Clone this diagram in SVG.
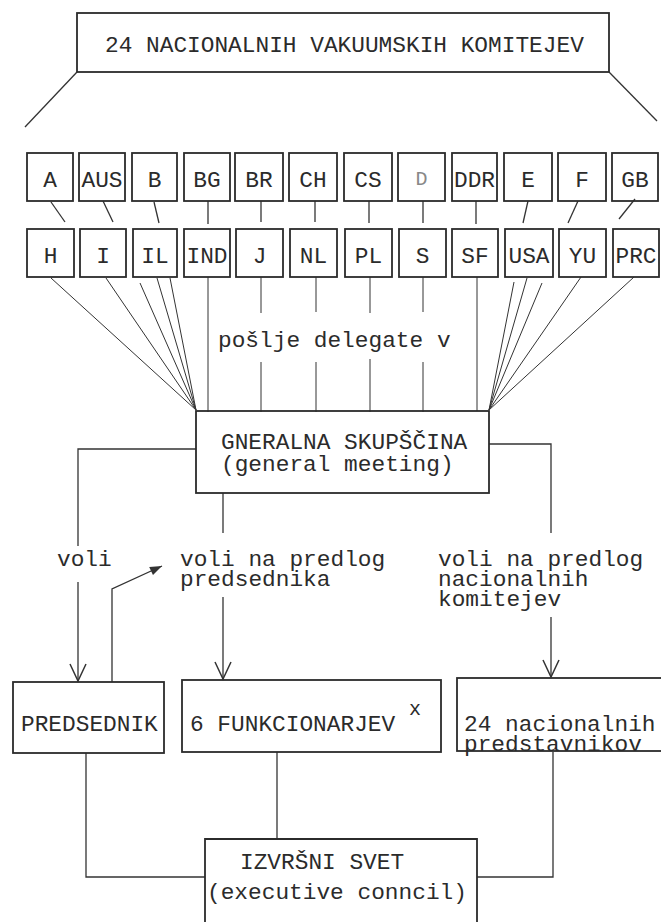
<svg xmlns="http://www.w3.org/2000/svg" width="661" height="922" viewBox="0 0 661 922">
<style>
.box{fill:none;stroke:#2b2b2b;stroke-width:1.8}
.ln{fill:none;stroke:#333;stroke-width:1.3}
.fan{fill:none;stroke:#333;stroke-width:1}
text{font-family:"Liberation Mono","Courier New",monospace;font-size:22.8px;fill:#2b2b2b}
.c{text-anchor:middle}
</style>
<defs>
<marker id="vee" viewBox="-1 -10 20 20" refX="17" refY="0" markerWidth="20" markerHeight="20" markerUnits="userSpaceOnUse" orient="auto">
<path d="M0,-8 L17,0 L0,8" fill="none" stroke="#333" stroke-width="1.5"/>
</marker>
<marker id="tri" viewBox="-1 -6 14 12" refX="12" refY="0" markerWidth="14" markerHeight="12" markerUnits="userSpaceOnUse" orient="auto">
<path d="M0,-4.5 L12,0 L0,4.5 Z" fill="#333"/>
</marker>
</defs>
<rect width="661" height="922" fill="#fff"/>

<g id="connectors">
<!-- top box slants -->
<line class="ln" x1="77" y1="72" x2="25" y2="127"/>
<line class="ln" x1="609" y1="72" x2="657" y2="121"/>
<!-- short links row1 -> row2 -->
<line class="ln" x1="51" y1="202" x2="65" y2="222"/>
<line class="ln" x1="103" y1="201" x2="113" y2="222"/>
<line class="ln" x1="154" y1="202" x2="159" y2="223"/>
<line class="ln" x1="208" y1="201" x2="208" y2="224"/>
<line class="ln" x1="261" y1="201" x2="261" y2="222"/>
<line class="ln" x1="315" y1="201" x2="315" y2="222"/>
<line class="ln" x1="369" y1="201" x2="369" y2="223"/>
<line class="ln" x1="423" y1="201" x2="423" y2="223"/>
<line class="ln" x1="476" y1="201" x2="476" y2="224"/>
<line class="ln" x1="528" y1="201" x2="523" y2="223"/>
<line class="ln" x1="578" y1="201" x2="568" y2="223"/>
<line class="ln" x1="635" y1="199" x2="619" y2="219"/>
<!-- left fan -->
<line class="fan" x1="51" y1="278" x2="196" y2="410"/>
<line class="fan" x1="106" y1="278" x2="196" y2="410"/>
<line class="fan" x1="140" y1="283" x2="196" y2="410"/>
<line class="fan" x1="157" y1="278" x2="196" y2="410"/>
<line class="fan" x1="170" y1="278" x2="196" y2="410"/>
<!-- right fan -->
<line class="fan" x1="514" y1="282" x2="489" y2="410"/>
<line class="fan" x1="527" y1="278" x2="489" y2="410"/>
<line class="fan" x1="542" y1="283" x2="489" y2="410"/>
<line class="fan" x1="581" y1="277" x2="489" y2="410"/>
<line class="fan" x1="634" y1="277" x2="489" y2="410"/>
<!-- verticals to general meeting -->
<line class="fan" x1="208" y1="277" x2="208" y2="412"/>
<line class="fan" x1="261" y1="277" x2="261" y2="313"/>
<line class="fan" x1="261" y1="362" x2="261" y2="412"/>
<line class="fan" x1="316" y1="277" x2="316" y2="312"/>
<line class="fan" x1="316" y1="362" x2="316" y2="412"/>
<line class="fan" x1="370" y1="277" x2="370" y2="313"/>
<line class="fan" x1="370" y1="359" x2="370" y2="412"/>
<line class="fan" x1="423" y1="277" x2="423" y2="312"/>
<line class="fan" x1="423" y1="362" x2="423" y2="412"/>
<line class="fan" x1="477" y1="277" x2="477" y2="411"/>
<!-- from general meeting -->
<polyline class="ln" points="196,449 78,449 78,546"/>
<line class="ln" x1="78" y1="582" x2="78" y2="681" marker-end="url(#vee)"/>
<line class="ln" x1="223" y1="493" x2="223" y2="533"/>
<line class="ln" x1="223" y1="597" x2="223" y2="679" marker-end="url(#vee)"/>
<polyline class="ln" points="489,444 551,444 551,533"/>
<line class="ln" x1="551" y1="617" x2="551" y2="677" marker-end="url(#vee)"/>
<!-- return arrow from predsednik -->
<polyline class="ln" points="112,682 112,589 162,566" marker-end="url(#tri)"/>
<!-- to executive council -->
<polyline class="ln" points="86,753 86,877 205,877"/>
<line class="ln" x1="277" y1="752" x2="277" y2="839"/>
<polyline class="ln" points="553,752 553,877 477,877"/>
</g>

<g id="n-komiteji">
<rect class="box" x="77" y="13" width="532" height="59"/>
<text x="105" y="52">24 NACIONALNIH VAKUUMSKIH KOMITEJEV</text>
</g>

<g id="n-A"><rect class="box" x="27" y="153" width="46" height="48"/><text class="c" x="50" y="187">A</text></g>
<g id="n-AUS"><rect class="box" x="79" y="153" width="46" height="48"/><text class="c" x="102" y="187">AUS</text></g>
<g id="n-B"><rect class="box" x="132" y="153" width="45" height="48"/><text class="c" x="154.5" y="187">B</text></g>
<g id="n-BG"><rect class="box" x="184" y="153" width="46" height="48"/><text class="c" x="207" y="187">BG</text></g>
<g id="n-BR"><rect class="box" x="235" y="153" width="48" height="48"/><text class="c" x="259" y="187">BR</text></g>
<g id="n-CH"><rect class="box" x="289" y="153" width="48" height="48"/><text class="c" x="313" y="187">CH</text></g>
<g id="n-CS"><rect class="box" x="344" y="153" width="48" height="48"/><text class="c" x="368" y="187">CS</text></g>
<g id="n-D"><rect class="box" x="398" y="153" width="47" height="48"/><text class="c" x="421.5" y="185" style="fill:#888;font-size:20px">D</text></g>
<g id="n-DDR"><rect class="box" x="452" y="153" width="45" height="48"/><text class="c" x="474.5" y="187">DDR</text></g>
<g id="n-E"><rect class="box" x="504" y="153" width="48" height="48"/><text class="c" x="528" y="187">E</text></g>
<g id="n-F"><rect class="box" x="558" y="153" width="48" height="48"/><text class="c" x="582" y="187">F</text></g>
<g id="n-GB"><rect class="box" x="612" y="153" width="46" height="48"/><text class="c" x="635" y="187">GB</text></g>

<g id="n-H"><rect class="box" x="27" y="229" width="47" height="48"/><text class="c" x="50.5" y="263">H</text></g>
<g id="n-I"><rect class="box" x="80" y="229" width="46" height="48"/><text class="c" x="103" y="263">I</text></g>
<g id="n-IL"><rect class="box" x="133" y="229" width="44" height="48"/><text class="c" x="155" y="263">IL</text></g>
<g id="n-IND"><rect class="box" x="184" y="229" width="46" height="48"/><text class="c" x="207" y="263">IND</text></g>
<g id="n-J"><rect class="box" x="236" y="229" width="47" height="48"/><text class="c" x="259.5" y="263">J</text></g>
<g id="n-NL"><rect class="box" x="290" y="229" width="47" height="48"/><text class="c" x="313.5" y="263">NL</text></g>
<g id="n-PL"><rect class="box" x="345" y="229" width="47" height="48"/><text class="c" x="368.5" y="263">PL</text></g>
<g id="n-S"><rect class="box" x="399" y="229" width="47" height="48"/><text class="c" x="422.5" y="263">S</text></g>
<g id="n-SF"><rect class="box" x="452" y="229" width="46" height="48"/><text class="c" x="475" y="263">SF</text></g>
<g id="n-USA"><rect class="box" x="505" y="229" width="48" height="48"/><text class="c" x="529" y="263">USA</text></g>
<g id="n-YU"><rect class="box" x="559" y="229" width="47" height="48"/><text class="c" x="582.5" y="263">YU</text></g>
<g id="n-PRC"><rect class="box" x="613" y="229" width="46" height="48"/><text class="c" x="636" y="263">PRC</text></g>

<g id="lbl-poslje"><text x="218" y="347">pošlje delegate v</text></g>

<g id="n-skupscina">
<rect class="box" x="196" y="411" width="293" height="82"/>
<text x="221" y="449">GNERALNA SKUPŠČINA</text>
<text x="221" y="471">(general meeting)</text>
</g>

<g id="labels">
<text x="57" y="566">voli</text>
<text x="180" y="566">voli na predlog</text>
<text x="180" y="586">predsednika</text>
<text x="438" y="566">voli na predlog</text>
<text x="438" y="586">nacionalnih</text>
<text x="438" y="606">komitejev</text>
</g>

<g id="n-predsednik">
<rect class="box" x="13" y="682" width="151" height="71"/>
<text x="21" y="731">PREDSEDNIK</text>
</g>
<g id="n-funkcionarji">
<rect class="box" x="182" y="680" width="259" height="72"/>
<text x="190" y="731">6 FUNKCIONARJEV</text>
<text x="409" y="715" style="font-size:20px">x</text>
</g>
<g id="n-predstavniki">
<rect class="box" x="457" y="678" width="205" height="73"/>
<text x="464" y="731">24 nacionalnih</text>
<text x="464" y="751">predstavnikov</text>
</g>

<g id="n-izvrsni">
<path class="box" d="M205,925 V839 H477 V925"/>
<text x="240" y="869">IZVRŠNI SVET</text>
<text x="207" y="899">(executive conncil)</text>
</g>
</svg>
